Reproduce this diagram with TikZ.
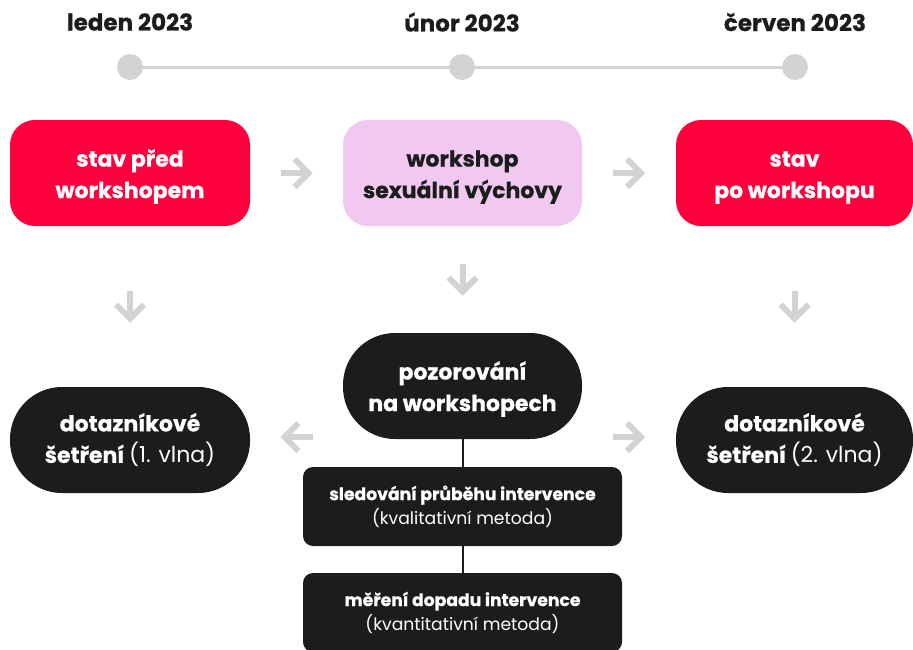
\documentclass[tikz,border=0pt]{standalone}
\usepackage{fontspec}
\setmainfont{Poppins}[BoldFeatures={FakeBold=0.6}]
\usetikzlibrary{calc}
\definecolor{cred}{HTML}{FF003C}
\definecolor{cpink}{HTML}{F0C8F0}
\definecolor{cblack}{HTML}{1B1D1D}
\definecolor{cgray}{HTML}{D3D3D3}
\newcommand{\bigfnt}{\fontsize{22}{31.5}\selectfont\bfseries}
\newcommand{\smallfnt}{\fontsize{17.2}{24}\selectfont}
\newcommand{\lowered}[1]{\raisebox{-3pt}[\height][\depth]{\begin{tabular}{@{}c@{}}#1\end{tabular}}}
\tikzset{
  garrow/.pic={
    \draw[cgray, line width=6pt, line join=miter] (-16,0) -- (12,0);
    \draw[cgray, line width=6pt, line join=miter] (-2,-14) -- (12,0) -- (-2,14);
  }
}
\begin{document}
\begin{tikzpicture}[x=1pt,y=-1pt,
  box/.style={minimum width=240pt, minimum height=106pt, rounded corners=25pt, align=center, font=\bigfnt, inner sep=0pt},
  redbox/.style={box, fill=cred, text=white},
  pinkbox/.style={box, fill=cpink, text=cblack},
  pill/.style={box, rounded corners=52pt, fill=cblack, text=white},
  subbox/.style={minimum width=319pt, minimum height=79pt, rounded corners=10pt, fill=cblack, text=white, align=center, font=\smallfnt, inner sep=0pt},
  datelabel/.style={font=\fontsize{23}{26}\selectfont\bfseries, text=cblack, inner sep=0pt},
  dot/.style={circle, fill=cgray, minimum size=26pt, inner sep=0pt},
  tl/.style={cgray, line width=3pt},
  link/.style={cblack, line width=2pt}
]
\useasboundingbox (0,0) rectangle (913,649);
\clip (0,0) rectangle (913,649);

% timeline
\node[datelabel] (l1) at (130,22) {leden 2023};
\node[datelabel] (l2) at (462,22) {únor 2023};
\node[datelabel] (l3) at (795,22) {červen 2023};
\node[dot] (d1) at (130,67) {};
\node[dot] (d2) at (462,67) {};
\node[dot] (d3) at (795,67) {};
\draw[tl] (d1) -- (d2);
\draw[tl] (d2) -- (d3);

% top row
\node[redbox] (a) at (130,173) {\lowered{stav před\\workshopem}};
\node[pinkbox, minimum width=239pt] (b) at (462.5,173) {\lowered{workshop\\sexuální výchovy}};
\node[redbox, minimum width=237pt] (c) at (794.5,173) {\lowered{stav\\po workshopu}};

% bottom row
\node[pill] (p1) at (130,440) {dotazníkové\\šetření \mdseries(1. vlna)};
\node[pill, minimum width=239pt] (p2) at (462.5,386) {\lowered{pozorování\\na workshopech}};
\node[pill, minimum width=237pt] (p3) at (794.5,440) {dotazníkové\\šetření \mdseries(2. vlna)};

% sub boxes
\node[subbox] (s1) at (462.5,506.5) {\bfseries sledování průběhu intervence\\(kvalitativní metoda)};
\node[subbox] (s2) at (462.5,612.5) {\bfseries měření dopadu intervence\\(kvantitativní metoda)};
\draw[link] (p2.south) -- (s1.north);
\draw[link] (s1.south) -- (s2.north);

% gray arrows
\pic at ($(a.east)!0.5!(b.west)$) {garrow};
\pic at ($(b.east)!0.5!(c.west)$) {garrow};
\pic[rotate=-90] at ($(a.south)!0.5!(p1.north)$) {garrow};
\pic[rotate=-90] at ($(b.south)!0.5!(p2.north)$) {garrow};
\pic[rotate=-90] at ($(c.south)!0.5!(p3.north)$) {garrow};
\pic[rotate=180] at ($(p1.east)!0.5!(p2.west |- p1.east) + (0,-3)$) {garrow};
\pic at ($(p3.west)!0.5!(p2.east |- p3.west) + (0,-3)$) {garrow};
\end{tikzpicture}
\end{document}
